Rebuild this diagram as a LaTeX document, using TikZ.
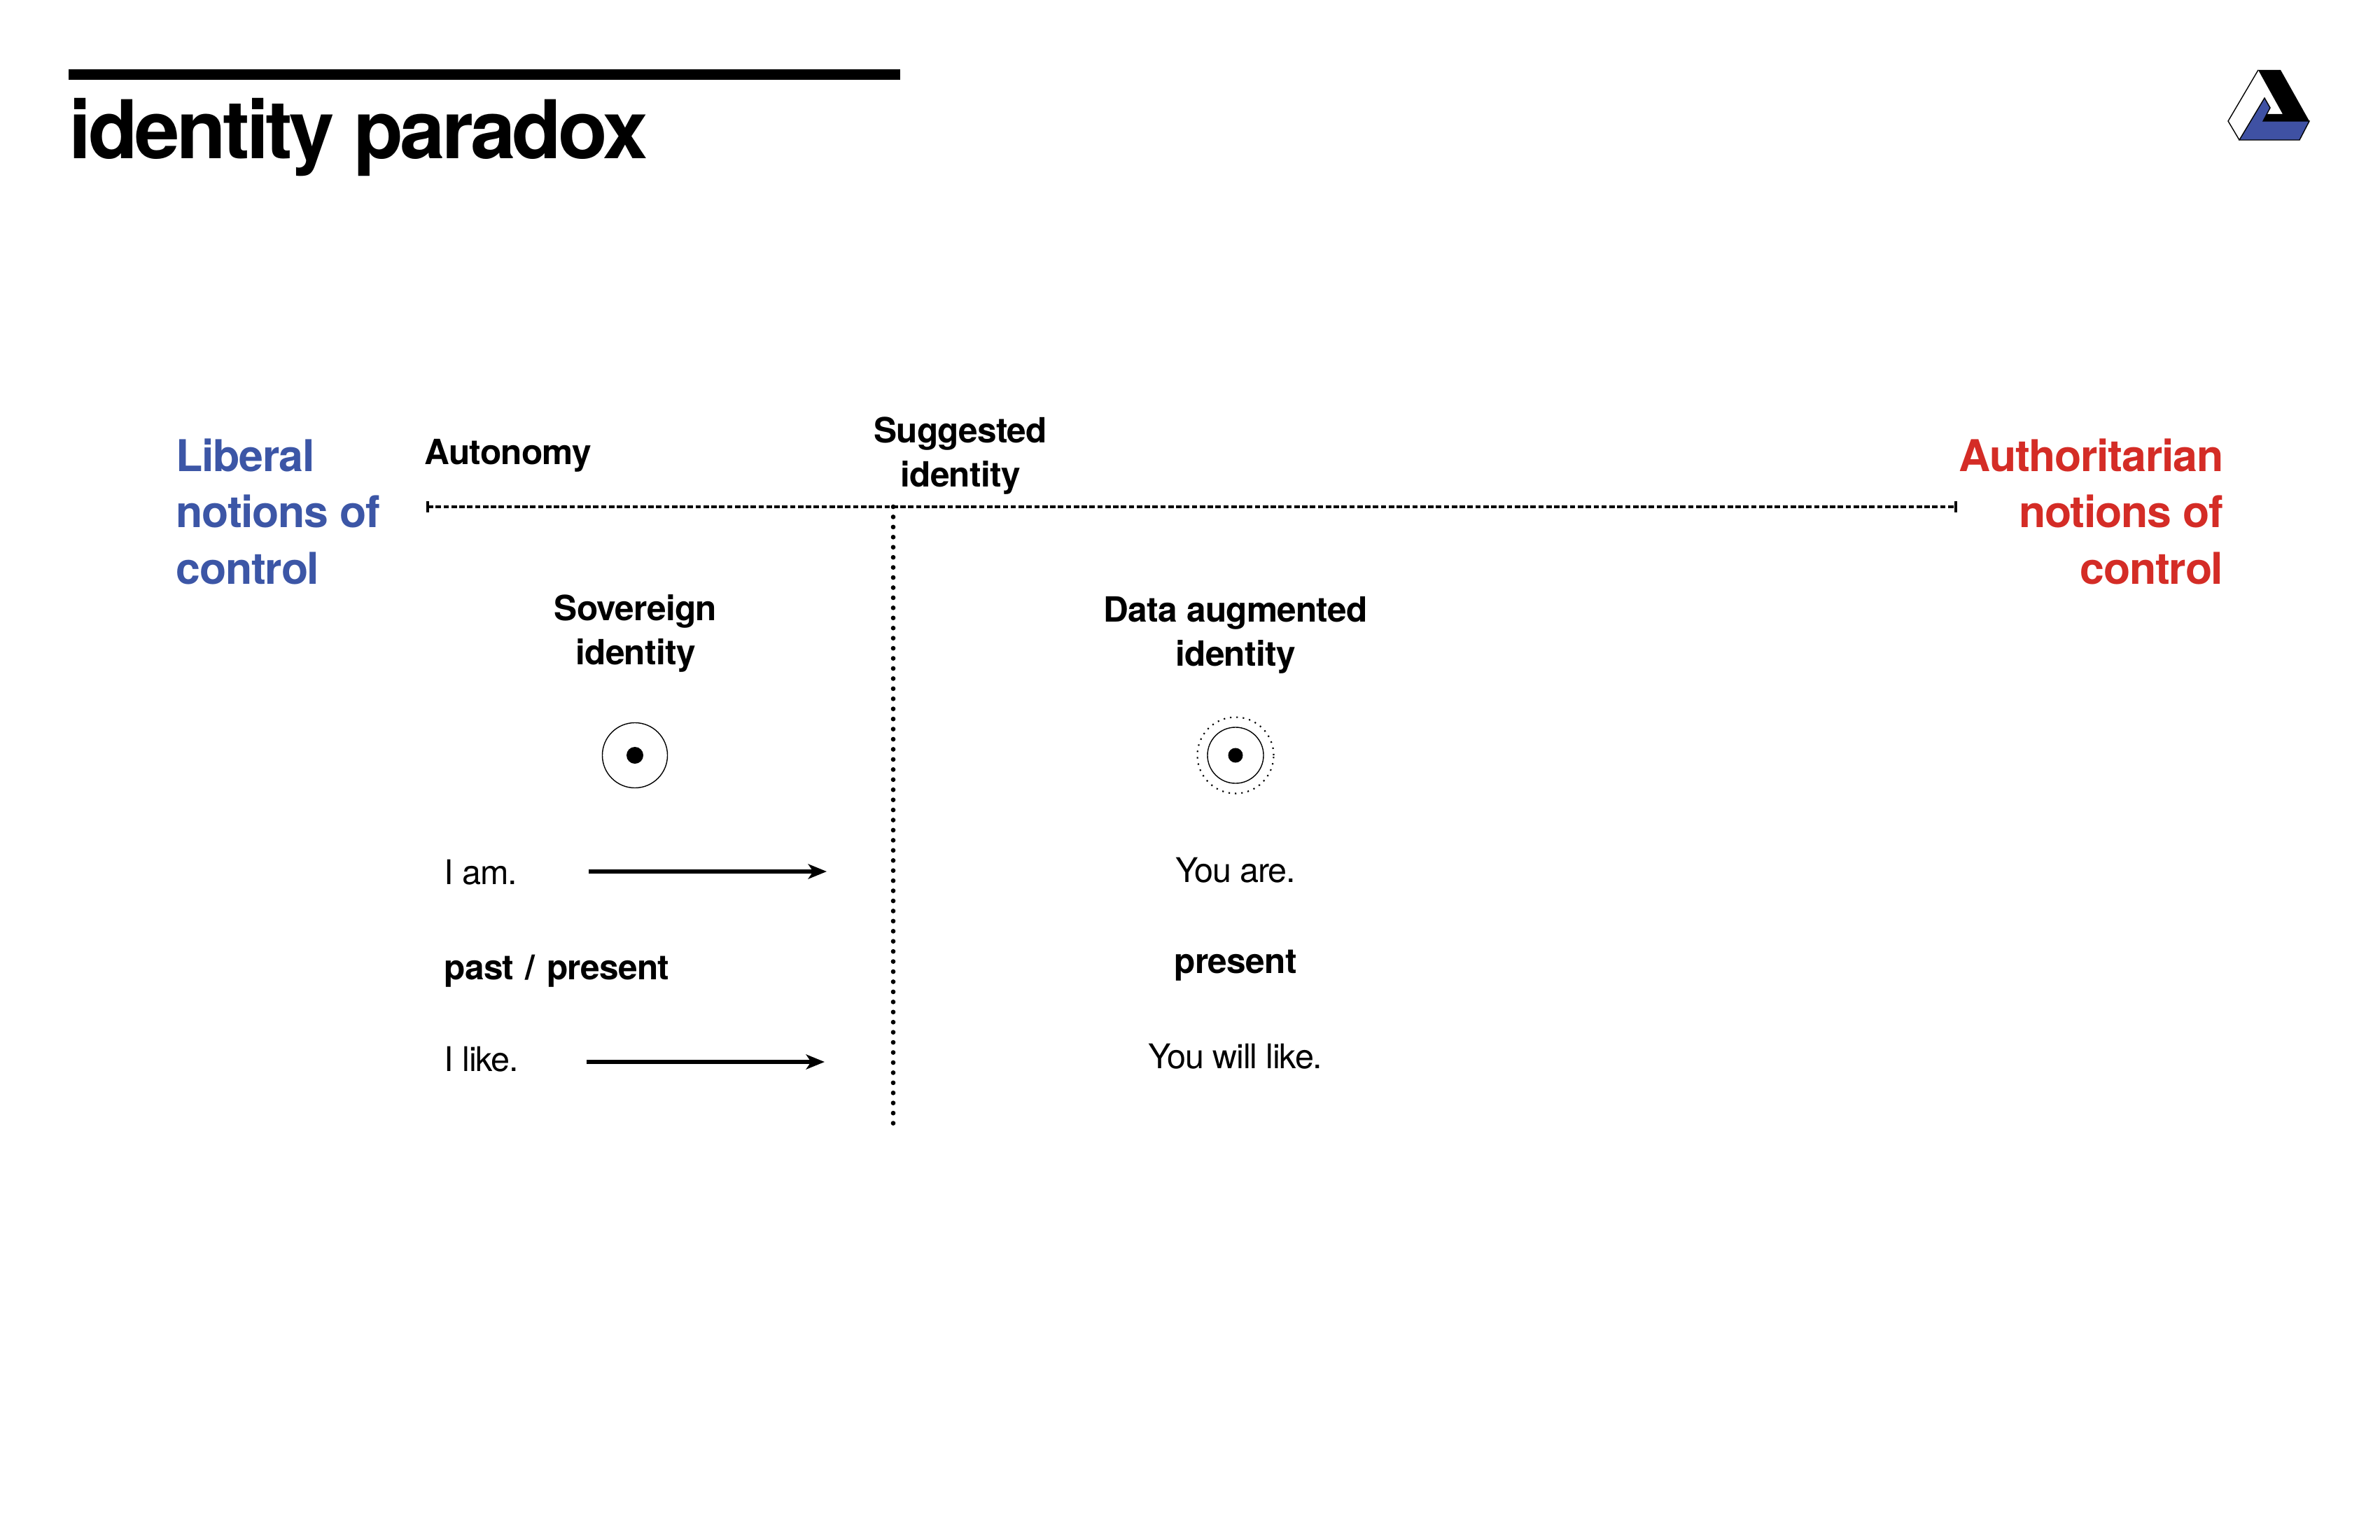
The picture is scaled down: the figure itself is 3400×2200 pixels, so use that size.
\documentclass[tikz,border=0pt]{standalone}
\usepackage{fontspec}
\setmainfont{TeX Gyre Heros}
\usetikzlibrary{arrows.meta}
\definecolor{logoblue}{HTML}{3F51A3}
\definecolor{libblue}{HTML}{3C56A6}
\definecolor{authred}{HTML}{D42C26}
\tikzset{
  headtext/.style={inner sep=0, font=\fontsize{17.8}{22.8}\selectfont\bfseries\addfontfeature{LetterSpace=-2}},
  labeltext/.style={inner sep=0, anchor=base, font=\fontsize{14.1}{17.9}\selectfont\bfseries\addfontfeature{LetterSpace=-1.5}},
  plaintext/.style={inner sep=0, font=\fontsize{13.8}{17.9}\selectfont\addfontfeature{LetterSpace=-2.5}},
  axisline/.style={line width=1.3pt, dash pattern=on 2.2pt off 1pt},
  pointer/.style={line width=1.6pt, -{Stealth[length=7.5pt,width=6pt,inset=2pt]}},
}
\begin{document}
\begin{tikzpicture}[x=0.01cm, y=-0.01cm]
\useasboundingbox (0,0) rectangle (3400,2200);
% title
\fill (98,99) rectangle (1286,114);
\node[inner sep=0, anchor=base west, font=\fontsize{32.9}{33}\selectfont\bfseries\addfontfeature{LetterSpace=-4}] (title) at (98,227) {identity paradox};
% logo
\draw[line width=0.4pt] (3226,100)--(3183,173)--(3199,200);
\fill[logoblue, draw=black, line width=0.4pt] (3235,140)--(3243,154)--(3233,173)--(3299,173)--(3285,200)--(3199,200)--cycle;
\fill (3226,100)--(3258,100)--(3299,173)--(3233,173)--(3238,163)--(3261,163)--cycle;
% ends of the axis
\node[headtext, text=libblue, align=left, anchor=base west] (liberal) at (251,834) {Liberal\\notions of\\control};
\node[headtext, text=authred, align=right, anchor=base east] (authoritarian) at (3177,834) {Authoritarian\\notions of\\control};
\node[labeltext, anchor=base west] (autonomy) at (606,663) {Autonomy};
\node[labeltext, align=center] (suggested) at (1372,695) {Suggested\\identity};
% axes
\coordinate (axisleft) at (611,724);
\coordinate (axisright) at (2794,724);
\coordinate (divtop) at (1276,724);
\coordinate (divbottom) at (1276,1606);
\draw[axisline] (axisleft)--(axisright);
\draw[line width=0.9pt] (611,716)--(611,732);
\draw[line width=0.9pt] (2794,716)--(2794,732);
\draw[line width=1.9pt, line cap=round, dash pattern=on 0pt off 4.105pt] (divtop)--(divbottom);
% left column
\node[labeltext, align=center] (sovereign) at (908,949) {Sovereign\\identity};
\node[circle, draw, line width=0.4pt, minimum size=0.93cm, inner sep=0] (selfring) at (907,1079) {};
\node[circle, fill, minimum size=0.24cm, inner sep=0] (selfdot) at (selfring) {};
\node[plaintext, anchor=base west] (iam) at (634,1263) {I am.};
\node[labeltext, anchor=base west] (pastpresent) at (634,1399) {past\,\,/\,\,present};
\node[plaintext, anchor=base west] (ilike) at (634,1530) {I like.};
\coordinate (amfrom) at (841,1245);
\coordinate (amto) at (1181,1245);
\coordinate (likefrom) at (838,1517);
\coordinate (liketo) at (1178,1517);
\draw[pointer] (amfrom)--(amto);
\draw[pointer] (likefrom)--(liketo);
% right column
\node[labeltext, align=center] (augmented) at (1765,951) {Data augmented\\identity};
\node[circle, draw, line width=0.4pt, minimum size=0.8cm, inner sep=0] (dataring) at (1765,1079) {};
\node[circle, draw, line width=0.6pt, dotted, minimum size=1.09cm, inner sep=0] (datahalo) at (dataring) {};
\node[circle, fill, minimum size=0.21cm, inner sep=0] (datadot) at (dataring) {};
\node[plaintext, anchor=base] (youare) at (1765,1260) {You are.};
\node[labeltext] (present) at (1765,1390) {present};
\node[plaintext, anchor=base] (youlike) at (1765,1526) {You will like.};
\end{tikzpicture}
\end{document}
